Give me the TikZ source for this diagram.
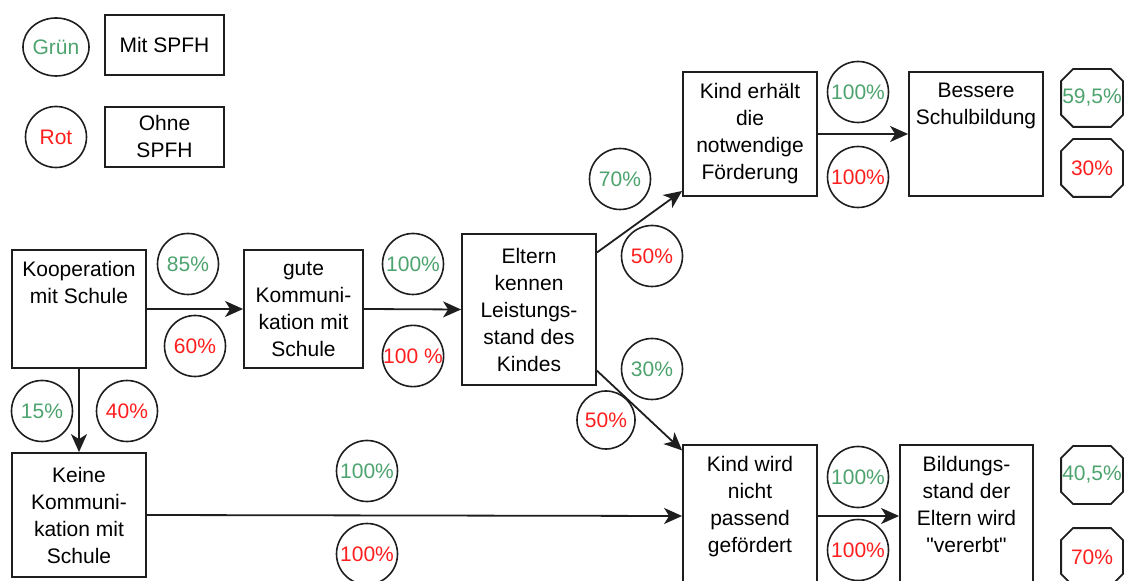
\documentclass[tikz,border=0pt]{standalone}
\usepackage{fontspec}
\setmainfont{Liberation Sans}
\newfontfamily\quotefont{Liberation Sans}[Ligatures=TeXOff]
\usetikzlibrary{arrows.meta,shapes.geometric}
\definecolor{pgreen}{RGB}{77,163,110}
\definecolor{pred}{RGB}{255,30,30}
\definecolor{ink}{RGB}{30,30,30}
\newcommand{\dq}{{\quotefont"}}
% outline of an octagon with cut corners around a named node
\newcommand{\octagonaround}[1]{%
  \draw[draw=ink,line width=0.9pt]
    ([xshift=6pt]#1.north west) -- ([xshift=-6pt]#1.north east)
    -- ([yshift=-6pt]#1.north east) -- ([yshift=6pt]#1.south east)
    -- ([xshift=-6pt]#1.south east) -- ([xshift=6pt]#1.south west)
    -- ([yshift=6pt]#1.south west) -- ([yshift=-6pt]#1.north west) -- cycle;}
\begin{document}
\begin{tikzpicture}[x=0.5pt,y=-0.5pt,
  font=\fontsize{10.5}{13.5}\selectfont,
  box/.style={draw=ink,line width=0.9pt,rectangle,inner sep=0pt,align=center},
  toptext/.style={label={[anchor=north,align=center,inner sep=0pt,yshift=-6pt]north:#1}},
  pct/.style={draw=ink,line width=0.8pt,circle,minimum size=30.5pt,inner sep=0pt},
  octa/.style={rectangle,minimum width=30.5pt,minimum height=28.5pt,inner sep=0pt},
  gr/.style={text=pgreen},
  rd/.style={text=pred},
  conn/.style={draw=ink,line width=0.9pt,-{Stealth[length=9pt,width=8pt,inset=2.5pt]}}]
\useasboundingbox (0,0) rectangle (1127,581);
\clip (0,0) rectangle (1127,581);

% legend
\node[draw=ink,line width=0.8pt,ellipse,minimum width=30.5pt,minimum height=29pt,inner sep=0pt,gr] (gruen) at (56,47) {Grün};
\node[box,minimum width=59.5pt,minimum height=30pt] (mit) at (164.5,45) {Mit SPFH};
\node[pct,rd] (rot) at (56,137) {Rot};
\node[box,minimum width=59.5pt,minimum height=30pt] (ohne) at (164.5,137) {Ohne\\SPFH};

% process boxes
\node[box,minimum width=67pt,minimum height=59pt,toptext={Kooperation\\mit Schule}] (koop) at (79,309) {};
\node[box,minimum width=59.5pt,minimum height=59pt] (gute) at (303.5,309) {gute\\Kommuni-\\kation mit\\Schule};
\node[box,minimum width=67pt,minimum height=75.5pt] (eltern) at (529,309.5) {Eltern\\kennen\\Leistungs-\\stand des\\Kindes};
\node[box,minimum width=67pt,minimum height=62pt] (erhaelt) at (750,134) {Kind erhält\\die\\notwendige\\Förderung};
\node[box,minimum width=67pt,minimum height=62pt,toptext={Bessere\\Schulbildung}] (besser) at (976,134) {};
\node[box,minimum width=67pt,minimum height=62pt] (keine) at (79,515) {Keine\\Kommuni-\\kation mit\\Schule};
\node[box,minimum width=67pt,minimum height=71pt,toptext={Kind wird\\nicht\\passend\\gefördert}] (nicht) at (750,516) {};
\node[box,minimum width=66.5pt,minimum height=71pt,toptext={Bildungs-\\stand der\\Eltern wird\\\dq vererbt\dq}] (vererbt) at (966.5,516) {};

% connectors
\draw[conn] (koop.east) -- (gute.west);
\draw[conn] (gute.east) -- (eltern.west);
\draw[conn] (koop.south) -- (keine.north);
\draw[conn] (eltern.40) -- (erhaelt.220);
\draw[conn] (eltern.-42.5) -- (nicht.136);
\draw[conn] (keine.east) -- (nicht.west);
\draw[conn] (erhaelt.east) -- (besser.west);
\draw[conn] (nicht.east) -- (vererbt.west);

% shares
\node[pct,gr] (p85) at (188,264) {85\%};
\node[pct,rd] (p60) at (195,346) {60\%};
\node[pct,gr] (p15) at (42,411) {15\%};
\node[pct,rd] (p40) at (127,411) {40\%};
\node[pct,gr] (p100a) at (413,264) {100\%};
\node[pct,rd] (p100b) at (413,356) {100 \%};
\node[pct,rd] (p50a) at (652,256) {50\%};
\node[pct,gr] (p30) at (652,369) {30\%};
\node[pct,rd,minimum size=29pt] (p50b) at (606,420) {50\%};
\node[pct,gr] (p70) at (620,179) {70\%};
\node[pct,gr] (p100c) at (858,92) {100\%};
\node[pct,rd] (p100d) at (858,177) {100\%};
\node[pct,gr] (p100e) at (858,477) {100\%};
\node[pct,rd] (p100f) at (858,550) {100\%};
\node[pct,gr] (p100g) at (367,471) {100\%};
\node[pct,rd] (p100h) at (367,554) {100\%};

% results
\node[octa,gr] (r595) at (1092,98) {\makebox[0pt]{59,5\%}};
\node[octa,rd] (r30) at (1092,168) {\makebox[0pt]{30\%}};
\node[octa,gr] (r405) at (1092,475) {\makebox[0pt]{40,5\%}};
\node[octa,rd] (r70) at (1092,557) {\makebox[0pt]{70\%}};
\octagonaround{r595}
\octagonaround{r30}
\octagonaround{r405}
\octagonaround{r70}
\end{tikzpicture}
\end{document}
